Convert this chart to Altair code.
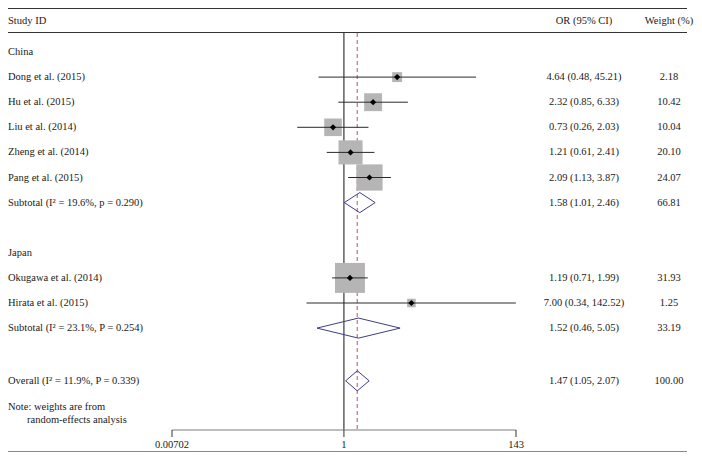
import altair as alt
import pandas as pd

# ---- data ----
studies = ["Dong et al. (2015)", "Hu et al. (2015)", "Liu et al. (2014)",
           "Zheng et al. (2014)", "Pang et al. (2015)",
           "Okugawa et al. (2014)", "Hirata et al. (2015)"]
study_rows = [1, 2, 3, 4, 5, 9, 10]
or_est = [4.64, 2.32, 0.73, 1.21, 2.09, 1.19, 7.00]
ci_lo = [0.48, 0.85, 0.26, 0.61, 1.13, 0.71, 0.34]
ci_hi = [45.21, 6.33, 2.03, 2.41, 3.87, 1.99, 142.52]
weights = [2.18, 10.42, 10.04, 20.10, 24.07, 31.93, 1.25]

pooled_labels = ["Subtotal (I\u00b2 = 19.6%, p = 0.290)",
                 "Subtotal (I\u00b2 = 23.1%, P = 0.254)",
                 "Overall (I\u00b2 = 11.9%, P = 0.339)"]
pooled_rows = [6, 11, 13.1]
pooled_est = [1.58, 1.52, 1.47]
pooled_lo = [1.01, 0.46, 1.05]
pooled_hi = [2.46, 5.05, 2.07]
pooled_w = [66.81, 33.19, 100.00]

group_labels = ["China", "Japan"]
group_rows = [0, 8]

axis_ticks = [0.00702, 1, 143]
axis_labels = ["0.00702", "1", "143"]
null_value = 1

FONT = "Liberation Serif"
FS = 10.5
TXT = "#1a1a1a"

# ---- tables ----
studies_df = pd.DataFrame({
    "label": studies, "row": study_rows, "est": or_est, "lo": ci_lo,
    "hi": ci_hi, "w": weights,
})
studies_df["ortext"] = [f"{e:.2f} ({l:.2f}, {h:.2f})" for e, l, h in zip(or_est, ci_lo, ci_hi)]
studies_df["wtext"] = [f"{w:.2f}" for w in weights]

pooled_df = pd.DataFrame({
    "label": pooled_labels, "row": pooled_rows, "est": pooled_est,
    "lo": pooled_lo, "hi": pooled_hi, "w": pooled_w,
})
pooled_df["ortext"] = [f"{e:.2f} ({l:.2f}, {h:.2f})" for e, l, h in zip(pooled_est, pooled_lo, pooled_hi)]
pooled_df["wtext"] = [f"{w:.2f}" for w in pooled_w]

half = 0.4
verts = []
for i, (r, e, l, h) in enumerate(zip(pooled_rows, pooled_est, pooled_lo, pooled_hi)):
    for k, (xv, dy) in enumerate([(l, 0), (e, -half), (h, 0), (e, half), (l, 0)]):
        verts.append({"g": i, "k": k, "x": xv, "row": r + dy})
diam_df = pd.DataFrame(verts)

groups_df = pd.DataFrame({"label": group_labels, "row": group_rows})
ticks_df = pd.DataFrame({"v": axis_ticks, "t": axis_labels})

xs = alt.Scale(type="log", domain=[axis_ticks[0], axis_ticks[-1]], range=[164, 508])
ys = alt.Scale(domain=[0, 14], range=[44, 395.4])

X = lambda f: alt.X(f, type="quantitative", scale=xs, axis=None)
Y = lambda f: alt.Y(f, type="quantitative", scale=ys, axis=None)

W = 686

# frame lines
frame_df = pd.DataFrame({"y": [0.5, 24.5, 443.5], "c": ["#333333", "#333333", "#8a8a8a"]})
frame = alt.Chart(frame_df).mark_rule(strokeWidth=1).encode(
    x=alt.value(0), x2=alt.value(W - 7), y=alt.Y("y:Q", scale=None, axis=None),
    color=alt.Color("c:N", scale=None))

headers_df = pd.DataFrame({"t": ["Study ID", "OR (95% CI)", "Weight (%)"]})
head_left = alt.Chart(headers_df.iloc[[0]]).mark_text(
    font=FONT, fontSize=FS, color=TXT, align="left", baseline="middle").encode(
    x=alt.value(0), y=alt.value(12.5), text="t:N")
head_or = alt.Chart(headers_df.iloc[[1]]).mark_text(
    font=FONT, fontSize=FS, color=TXT, align="center", baseline="middle").encode(
    x=alt.value(576), y=alt.value(12.5), text="t:N")
head_w = alt.Chart(headers_df.iloc[[2]]).mark_text(
    font=FONT, fontSize=FS, color=TXT, align="center", baseline="middle").encode(
    x=alt.value(661), y=alt.value(12.5), text="t:N")

# vertical lines
null_rule = alt.Chart(pd.DataFrame({"v": [null_value]})).mark_rule(
    color="#111111", strokeWidth=1).encode(x=X("v"), y=alt.value(25), y2=alt.value(422))
overall_rule = alt.Chart(pd.DataFrame({"v": [pooled_est[-1]]})).mark_rule(
    color="#c4899a", strokeWidth=1.4, strokeDash=[4, 3]).encode(
    x=X("v"), y=alt.value(25), y2=alt.value(422))

# squares
squares = alt.Chart(studies_df).mark_point(shape="square", filled=True, opacity=1,
                                           color="#b5b5b5").encode(
    x=X("est"), y=Y("row"),
    size=alt.Size("w:Q", scale=alt.Scale(domain=[0, 32], range=[40, 900]), legend=None))
ci = alt.Chart(studies_df).mark_rule(color="#2a2a2a", strokeWidth=1).encode(
    x=X("lo"), x2="hi", y=Y("row"))
dots = alt.Chart(studies_df).mark_point(shape="diamond", filled=True, opacity=1,
                                        color="#000000", size=38).encode(
    x=X("est"), y=Y("row"))

diamonds = alt.Chart(diam_df).mark_line(color="#3f3c85", strokeWidth=1).encode(
    x=X("x"), y=Y("row"), detail="g:N", order="k:Q")

# left labels
lab_style = dict(font=FONT, fontSize=FS, color=TXT, align="left", baseline="middle")
grp_text = alt.Chart(groups_df).mark_text(**lab_style).encode(
    x=alt.value(0), y=Y("row"), text="label:N")
study_text = alt.Chart(studies_df).mark_text(**lab_style).encode(
    x=alt.value(0), y=Y("row"), text="label:N")
pooled_text = alt.Chart(pooled_df).mark_text(**lab_style).encode(
    x=alt.value(0), y=Y("row"), text="label:N")

note1 = alt.Chart(pd.DataFrame({"t": ["Note: weights are from"]})).mark_text(**lab_style).encode(
    x=alt.value(0), y=alt.value(399), text="t:N")
note2 = alt.Chart(pd.DataFrame({"t": ["random-effects analysis"]})).mark_text(**lab_style).encode(
    x=alt.value(19), y=alt.value(412), text="t:N")

# right columns
c_style = dict(font=FONT, fontSize=FS, color=TXT, align="center", baseline="middle")
or_text = alt.layer(
    alt.Chart(studies_df).mark_text(**c_style).encode(x=alt.value(576), y=Y("row"), text="ortext:N"),
    alt.Chart(pooled_df).mark_text(**c_style).encode(x=alt.value(576), y=Y("row"), text="ortext:N"),
    alt.Chart(studies_df).mark_text(**c_style).encode(x=alt.value(661), y=Y("row"), text="wtext:N"),
    alt.Chart(pooled_df).mark_text(**c_style).encode(x=alt.value(661), y=Y("row"), text="wtext:N"),
)

# custom axis
axis_line = alt.Chart(pd.DataFrame({"a": [axis_ticks[0]], "b": [axis_ticks[-1]]})).mark_rule(
    color="#7a7a7a", strokeWidth=1).encode(x=X("a"), x2="b", y=alt.value(422))
axis_ticks_m = alt.Chart(ticks_df).mark_rule(color="#333333", strokeWidth=1).encode(
    x=X("v"), y=alt.value(422), y2=alt.value(429))
axis_text = alt.Chart(ticks_df).mark_text(**c_style).encode(
    x=X("v"), y=alt.value(437), text="t:N")

chart = alt.layer(
    frame, head_left, head_or, head_w,
    null_rule, overall_rule,
    squares, ci, dots, diamonds,
    grp_text, study_text, pooled_text, note1, note2,
    or_text,
    axis_line, axis_ticks_m, axis_text,
).properties(
    width=W, height=444,
    autosize=alt.AutoSizeParams(type="none"),
    padding=0,
    background="white",
).configure_view(stroke=None)

chart.save("out.html", embed_options={"renderer": "svg", "actions": False})
